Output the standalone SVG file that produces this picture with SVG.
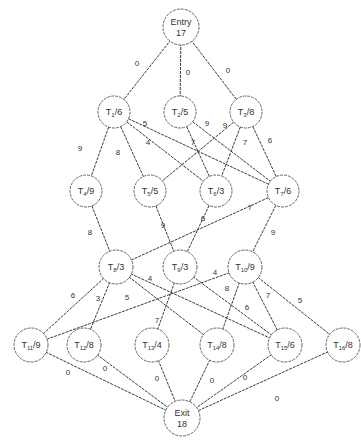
<svg xmlns="http://www.w3.org/2000/svg" width="361" height="443" viewBox="0 0 361 443">
<style>
.e{stroke:#3a3a3a;stroke-width:1;stroke-dasharray:3 1;fill:none}
.n{fill:#fff;stroke:#555;stroke-width:0.9;stroke-dasharray:3 1}
.t{font-family:"Liberation Sans",Arial,sans-serif;font-size:9px;fill:#333;text-anchor:middle}
.s{font-size:6px}
.l{font-family:"Liberation Sans",Arial,sans-serif;font-size:8px;fill:#333;text-anchor:middle}
</style>
<rect width="361" height="443" fill="#fff"/>
<g id="connectors">
<line class="e" x1="181" y1="27" x2="114" y2="112"/>
<line class="e" x1="181" y1="27" x2="180" y2="112"/>
<line class="e" x1="181" y1="27" x2="246" y2="112"/>
<line class="e" x1="114" y1="112" x2="86" y2="191"/>
<line class="e" x1="114" y1="112" x2="150" y2="191"/>
<line class="e" x1="114" y1="112" x2="216" y2="191"/>
<line class="e" x1="114" y1="112" x2="283" y2="191"/>
<line class="e" x1="180" y1="112" x2="216" y2="191"/>
<line class="e" x1="180" y1="112" x2="283" y2="191"/>
<line class="e" x1="246" y1="112" x2="150" y2="191"/>
<line class="e" x1="246" y1="112" x2="216" y2="191"/>
<line class="e" x1="246" y1="112" x2="283" y2="191"/>
<line class="e" x1="86" y1="191" x2="116" y2="267"/>
<line class="e" x1="150" y1="191" x2="180" y2="267"/>
<line class="e" x1="216" y1="191" x2="180" y2="267"/>
<line class="e" x1="283" y1="191" x2="116" y2="267"/>
<line class="e" x1="283" y1="191" x2="245" y2="267"/>
<line class="e" x1="116" y1="267" x2="31" y2="345"/>
<line class="e" x1="116" y1="267" x2="84" y2="345"/>
<line class="e" x1="116" y1="267" x2="217" y2="345"/>
<line class="e" x1="116" y1="267" x2="285" y2="345"/>
<line class="e" x1="180" y1="267" x2="152" y2="345"/>
<line class="e" x1="180" y1="267" x2="285" y2="345"/>
<line class="e" x1="245" y1="267" x2="31" y2="345"/>
<line class="e" x1="245" y1="267" x2="217" y2="345"/>
<line class="e" x1="245" y1="267" x2="285" y2="345"/>
<line class="e" x1="245" y1="267" x2="343" y2="345"/>
<line class="e" x1="31" y1="345" x2="182" y2="418"/>
<line class="e" x1="84" y1="345" x2="182" y2="418"/>
<line class="e" x1="152" y1="345" x2="182" y2="418"/>
<line class="e" x1="217" y1="345" x2="182" y2="418"/>
<line class="e" x1="285" y1="345" x2="182" y2="418"/>
<line class="e" x1="343" y1="345" x2="182" y2="418"/>
<text class="l" x="137" y="66">0</text>
<text class="l" x="188" y="75">0</text>
<text class="l" x="228" y="73">0</text>
<text class="l" x="80" y="151">9</text>
<text class="l" x="118" y="155">8</text>
<text class="l" x="145" y="126">5</text>
<text class="l" x="148" y="145">4</text>
<text class="l" x="193" y="145">7</text>
<text class="l" x="207" y="126">9</text>
<text class="l" x="225" y="128">9</text>
<text class="l" x="245" y="145">7</text>
<text class="l" x="270" y="143">6</text>
<text class="l" x="90" y="235">8</text>
<text class="l" x="163" y="228">9</text>
<text class="l" x="203" y="221">6</text>
<text class="l" x="250" y="210">7</text>
<text class="l" x="273" y="235">9</text>
<text class="l" x="73" y="298">6</text>
<text class="l" x="98" y="301">3</text>
<text class="l" x="127" y="300">5</text>
<text class="l" x="150" y="281">4</text>
<text class="l" x="157" y="323">7</text>
<text class="l" x="215" y="275">4</text>
<text class="l" x="227" y="291">8</text>
<text class="l" x="247" y="310">6</text>
<text class="l" x="268" y="298">7</text>
<text class="l" x="300" y="303">5</text>
<text class="l" x="68" y="375">0</text>
<text class="l" x="105" y="371">0</text>
<text class="l" x="157" y="381">0</text>
<text class="l" x="212" y="383">0</text>
<text class="l" x="245" y="380">0</text>
<text class="l" x="277" y="401">0</text>
</g>
<g id="entry"><circle class="n" cx="181" cy="27" r="18"/><text class="t" x="181" y="25">Entry</text><text class="t" x="181" y="36">17</text></g>
<g id="t1"><circle class="n" cx="114" cy="112" r="16"/><text class="t" x="114" y="115">T<tspan class="s" dy="2">1</tspan><tspan dy="-2">/6</tspan></text></g>
<g id="t2"><circle class="n" cx="180" cy="112" r="16"/><text class="t" x="180" y="115">T<tspan class="s" dy="2">2</tspan><tspan dy="-2">/5</tspan></text></g>
<g id="t3"><circle class="n" cx="246" cy="112" r="16"/><text class="t" x="246" y="115">T<tspan class="s" dy="2">3</tspan><tspan dy="-2">/8</tspan></text></g>
<g id="t4"><circle class="n" cx="86" cy="191" r="16"/><text class="t" x="86" y="194">T<tspan class="s" dy="2">4</tspan><tspan dy="-2">/9</tspan></text></g>
<g id="t5"><circle class="n" cx="150" cy="191" r="16"/><text class="t" x="150" y="194">T<tspan class="s" dy="2">5</tspan><tspan dy="-2">/5</tspan></text></g>
<g id="t6"><circle class="n" cx="216" cy="191" r="16"/><text class="t" x="216" y="194">T<tspan class="s" dy="2">6</tspan><tspan dy="-2">/3</tspan></text></g>
<g id="t7"><circle class="n" cx="283" cy="191" r="16"/><text class="t" x="283" y="194">T<tspan class="s" dy="2">7</tspan><tspan dy="-2">/6</tspan></text></g>
<g id="t8"><circle class="n" cx="116" cy="267" r="17"/><text class="t" x="116" y="270">T<tspan class="s" dy="2">8</tspan><tspan dy="-2">/3</tspan></text></g>
<g id="t9"><circle class="n" cx="180" cy="267" r="17"/><text class="t" x="180" y="270">T<tspan class="s" dy="2">9</tspan><tspan dy="-2">/3</tspan></text></g>
<g id="t10"><circle class="n" cx="245" cy="267" r="17"/><text class="t" x="245" y="270">T<tspan class="s" dy="2">10</tspan><tspan dy="-2">/9</tspan></text></g>
<g id="t11"><circle class="n" cx="31" cy="345" r="17"/><text class="t" x="31" y="348">T<tspan class="s" dy="2">11</tspan><tspan dy="-2">/9</tspan></text></g>
<g id="t12"><circle class="n" cx="84" cy="345" r="17"/><text class="t" x="84" y="348">T<tspan class="s" dy="2">12</tspan><tspan dy="-2">/8</tspan></text></g>
<g id="t13"><circle class="n" cx="152" cy="345" r="17"/><text class="t" x="152" y="348">T<tspan class="s" dy="2">13</tspan><tspan dy="-2">/4</tspan></text></g>
<g id="t14"><circle class="n" cx="217" cy="345" r="17"/><text class="t" x="217" y="348">T<tspan class="s" dy="2">14</tspan><tspan dy="-2">/8</tspan></text></g>
<g id="t15"><circle class="n" cx="285" cy="345" r="17"/><text class="t" x="285" y="348">T<tspan class="s" dy="2">15</tspan><tspan dy="-2">/6</tspan></text></g>
<g id="t16"><circle class="n" cx="343" cy="345" r="17"/><text class="t" x="343" y="348">T<tspan class="s" dy="2">16</tspan><tspan dy="-2">/8</tspan></text></g>
<g id="exit"><circle class="n" cx="182" cy="418" r="18"/><text class="t" x="182" y="416">Exit</text><text class="t" x="182" y="427">18</text></g>
</svg>
